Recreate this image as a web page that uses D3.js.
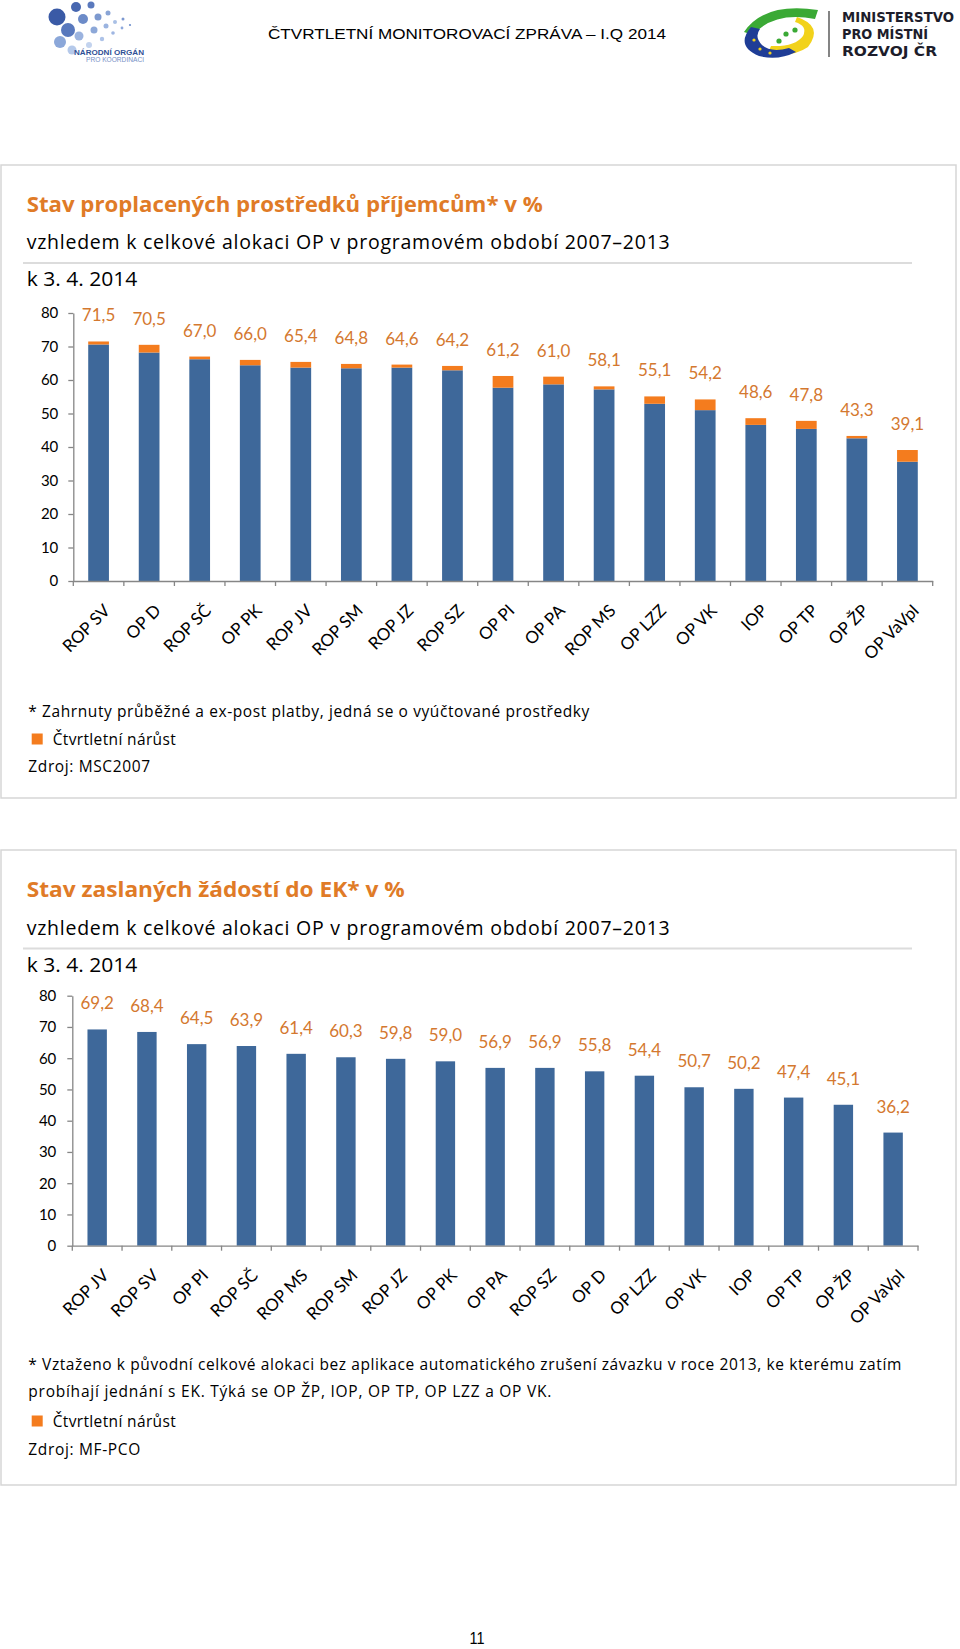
<!DOCTYPE html>
<html>
<head>
<meta charset="utf-8">
<script src="https://cdn.jsdelivr.net/npm/d3@7"></script>
<style>
  body { margin: 0; background: #fff; }
  svg { display: block; }
</style>
</head>
<body>
<svg id="page" width="960" height="1649"></svg>
<script>
// ---- data ----
const yTicks = [0, 10, 20, 30, 40, 50, 60, 70, 80];

// chart 1: paid to beneficiaries (total) and quarterly increase (orange top)
const cats1 = ["ROP SV", "OP D", "ROP SČ", "OP PK", "ROP JV", "ROP SM", "ROP JZ", "ROP SZ", "OP PI",
  "OP PA", "ROP MS", "OP LZZ", "OP VK", "IOP", "OP TP", "OP ŽP", "OP VaVpI"];
const total1 = [71.5, 70.5, 67.0, 66.0, 65.4, 64.8, 64.6, 64.2, 61.2, 61.0, 58.1, 55.1, 54.2, 48.6, 47.8, 43.3, 39.1];
const growth1 = [0.9, 2.3, 0.8, 1.6, 1.7, 1.3, 0.9, 1.3, 3.5, 2.3, 0.9, 2.2, 3.2, 2.0, 2.4, 0.7, 3.5];

// chart 2: requests sent to EC
const cats2 = ["ROP JV", "ROP SV", "OP PI", "ROP SČ", "ROP MS", "ROP SM", "ROP JZ", "OP PK", "OP PA",
  "ROP SZ", "OP D", "OP LZZ", "OP VK", "IOP", "OP TP", "OP ŽP", "OP VaVpI"];
const total2 = [69.2, 68.4, 64.5, 63.9, 61.4, 60.3, 59.8, 59.0, 56.9, 56.9, 55.8, 54.4, 50.7, 50.2, 47.4, 45.1, 36.2];

const BLUE = "#3e689a", ORANGE = "#f47c1e", LABEL = "#d4782f", TITLE = "#e07b27", AXIS = "#868686";
const chartFont = "Lato, 'Open Sans', sans-serif";
const textFont = "'Open Sans', 'Noto Sans', sans-serif";

const fmt = d3.formatLocale({ decimal: ",", thousands: " ", grouping: [3], currency: ["", ""] }).format(".1f");

const svg = d3.select("#page");
svg.append("rect").attr("width", 960).attr("height", 1649).attr("fill", "#fff");

// text helper, width forced to what the page shows
function txt(g, o) {
  const t = g.append("text")
    .attr("x", o.x).attr("y", o.y)
    .attr("font-family", o.family || textFont)
    .attr("font-size", o.size)
    .attr("font-weight", o.weight || "normal")
    .attr("fill", o.fill || "#000")
    .text(o.text);
  if (o.width) t.attr("textLength", o.width).attr("lengthAdjust", o.adjust || "spacingAndGlyphs");
  if (o.anchor) t.attr("text-anchor", o.anchor);
  return t;
}

// ---- page header ----
const head = svg.append("g");
const dots = [
  [57, 17, 8.5, "#3a5aa6"], [76, 7, 5, "#4767b0"], [91, 5, 3.5, "#5a79bd"], [68, 30, 7, "#5878bd"],
  [83, 19, 5, "#6c8bc8"], [98, 17, 3.5, "#7d99cf"], [108, 13, 2.5, "#8aa5d6"], [60, 42, 6, "#8ba7d9"],
  [79, 36, 4.5, "#9bb3df"], [94, 30, 3.5, "#8da8d8"], [106, 26, 2.5, "#9bb4e0"], [115, 22, 2, "#a9c0e5"],
  [123, 19, 1.5, "#7c98d0"], [72, 50, 4.5, "#b5c9ea"], [89, 45, 3, "#c3d3ee"], [102, 39, 2.2, "#aec3e8"],
  [113, 33, 1.8, "#9fb6e2"], [122, 28, 1.4, "#8fa9dc"], [130, 25, 1.1, "#6f8fcc"]
];
head.selectAll("circle").data(dots).join("circle")
  .attr("cx", d => d[0]).attr("cy", d => d[1]).attr("r", d => d[2]).attr("fill", d => d[3]);
txt(head, { x: 144, y: 55, text: "NÁRODNÍ ORGÁN", size: 7.5, weight: "bold", fill: "#2f4f96", anchor: "end", width: 70, family: "'Liberation Sans', Arial, sans-serif" });
txt(head, { x: 144, y: 62, text: "PRO KOORDINACI", size: 6.5, fill: "#7790c6", anchor: "end", width: 58, family: "'Liberation Sans', Arial, sans-serif" });

txt(head, { x: 268, y: 39, text: "ČTVRTLETNÍ MONITOROVACÍ ZPRÁVA – I.Q 2014", size: 15.5, width: 398, family: "'Liberation Sans', Arial, sans-serif" });

// ministry logo
head.append("path").attr("fill", "#3aa935")
  .attr("d", "M744,32 Q764,2 818,10 L815,19 Q774,11 753,35 Z");
head.append("path").attr("fill", "#f2d21b")
  .attr("d", "M797,17 Q824,26 808,47 Q792,58 768,53 L771,46 Q795,47 803,36 Q808,26 795,22 Z");
head.append("path").attr("fill", "#1f3d96")
  .attr("d", "M751,27 Q735,46 759,56 Q778,61 796,52 L789,48 Q771,53 762,45 Q754,37 760,29 Z");
head.selectAll(".star").data([[754, 40], [760, 49], [770, 53]]).join("circle")
  .attr("cx", d => d[0]).attr("cy", d => d[1]).attr("r", 1.6).attr("fill", "#f2d21b");
head.selectAll(".leaf").data([[786, 34], [795, 30], [779, 41]]).join("circle")
  .attr("cx", d => d[0]).attr("cy", d => d[1]).attr("r", 2.6).attr("fill", "#3aa935");
head.append("line").attr("x1", 829).attr("x2", 829).attr("y1", 11).attr("y2", 57)
  .attr("stroke", "#333").attr("stroke-width", 1.2);
const mFont = "'DejaVu Sans', sans-serif";
txt(head, { x: 842, y: 22, text: "MINISTERSTVO", size: 14, weight: "bold", fill: "#1d1d2b", width: 112, family: mFont });
txt(head, { x: 842, y: 39, text: "PRO MÍSTNÍ", size: 14, weight: "bold", fill: "#1d1d2b", width: 86, family: mFont });
txt(head, { x: 842, y: 56, text: "ROZVOJ ČR", size: 14, weight: "bold", fill: "#1d1d2b", width: 95, family: mFont });

// ---- panels ----
function panel(top, bottom) {
  svg.append("rect").attr("x", 1).attr("y", top).attr("width", 955).attr("height", bottom - top)
    .attr("fill", "none").attr("stroke", "#d6d6d6").attr("stroke-width", 1.5);
}
panel(165, 798);
panel(850, 1485);

function heading(g, o) {
  txt(g, { x: 26.7, y: o.y, text: o.title, size: 22, weight: "bold", fill: TITLE, width: o.titleW });
  txt(g, { x: 26.7, y: o.y + 37.3, text: "vzhledem k celkové alokaci OP v programovém období 2007–2013", size: 19.5, width: 643, adjust: "spacing" });
  g.append("line").attr("x1", 23).attr("x2", 912).attr("y1", o.y + 51.3).attr("y2", o.y + 51.3)
    .attr("stroke", "#dcdcdc").attr("stroke-width", 2);
  txt(g, { x: 26.7, y: o.y + 74.3, text: "k 3. 4. 2014", size: 19.5, width: 110.6 });
}

// ---- bar chart ----
function chart(c) {
  const g = svg.append("g");
  const x = d3.scaleBand().domain(c.cats).range([c.left, c.right])
    .paddingInner(c.pad).paddingOuter(c.pad / 2);
  const y = d3.scaleLinear().domain([0, 80]).range([c.bottom, c.top]);
  const bw = x.bandwidth();

  const base = c.totals.map((t, i) => c.growth ? t - c.growth[i] : t);

  g.selectAll(".blue").data(c.cats).join("rect")
    .attr("x", d => x(d)).attr("width", bw)
    .attr("y", (d, i) => y(base[i])).attr("height", (d, i) => y(0) - y(base[i]))
    .attr("fill", BLUE);

  if (c.growth) {
    g.selectAll(".orange").data(c.cats).join("rect")
      .attr("x", d => x(d)).attr("width", bw)
      .attr("y", (d, i) => y(c.totals[i])).attr("height", (d, i) => y(base[i]) - y(c.totals[i]))
      .attr("fill", ORANGE);
  }

  // value labels
  g.selectAll(".val").data(c.cats).join("text")
    .attr("x", d => x(d) + bw / 2).attr("y", (d, i) => y(c.totals[i]) - 20)
    .attr("text-anchor", "middle").attr("font-family", chartFont).attr("font-size", 17)
    .attr("fill", LABEL).text((d, i) => fmt(c.totals[i]));

  // y axis
  g.append("g").attr("transform", `translate(${c.left},0)`)
    .call(d3.axisLeft(y).tickValues(yTicks).tickSize(5).tickSizeOuter(0).tickPadding(c.tickPad))
    .attr("color", AXIS).attr("font-family", chartFont).attr("font-size", 15)
    .call(a => a.selectAll("text").attr("fill", "#000"))
    .call(a => a.selectAll("path,line").attr("stroke-width", 1.3));

  // x axis: line plus ticks between categories
  const xa = g.append("g").attr("transform", `translate(0,${c.bottom})`)
    .call(d3.axisBottom(x).tickSize(0).tickSizeOuter(0).tickFormat(""))
    .attr("color", AXIS);
  xa.select(".domain").attr("stroke-width", 1.3);
  xa.selectAll(".bound").data(d3.range(c.cats.length + 1)).join("line")
    .attr("x1", i => c.left + i * x.step()).attr("x2", i => c.left + i * x.step())
    .attr("y1", 0).attr("y2", 5).attr("stroke", AXIS).attr("stroke-width", 1.3);

  // rotated category labels
  g.selectAll(".cat").data(c.cats).join("text")
    .attr("transform", d => `translate(${x(d) + bw / 2 + 4},${c.bottom + 22}) rotate(-45)`)
    .attr("text-anchor", "end").attr("dy", "0.72em")
    .attr("font-family", chartFont).attr("font-size", 17).attr("fill", "#000")
    .text(d => d);
}

function notes(g, lines, legendY, sourceY, source, sourceW) {
  lines.forEach(l => txt(g, { x: 28.3, y: l.y, text: l.text, size: 15.5, width: l.w, adjust: "spacing" }));
  g.append("rect").attr("x", 31.7).attr("y", legendY - 11.5).attr("width", 11).attr("height", 11).attr("fill", ORANGE);
  txt(g, { x: 52.7, y: legendY, text: "Čtvrtletní nárůst", size: 15.5, width: 123, adjust: "spacing" });
  txt(g, { x: 28.3, y: sourceY, text: source, size: 15.5, width: sourceW, adjust: "spacing" });
}

// panel 1
const p1 = svg.append("g");
heading(p1, { y: 211.7, title: "Stav proplacených prostředků příjemcům* v %", titleW: 516 });
chart({ cats: cats1, totals: total1, growth: growth1, left: 73.3, right: 932.7, top: 313, bottom: 581, pad: 0.59, tickPad: 10 });
notes(p1, [{ y: 716.7, text: "* Zahrnuty průběžné a ex-post platby, jedná se o vyúčtované prostředky", w: 561 }],
  745, 772, "Zdroj: MSC2007", 121.7);

// panel 2
const p2 = svg.append("g");
heading(p2, { y: 897.3, title: "Stav zaslaných žádostí do EK* v %", titleW: 378 });
chart({ cats: cats2, totals: total2, left: 72.3, right: 918, top: 995.7, bottom: 1245.7, pad: 0.61, tickPad: 11 });
notes(p2, [
  { y: 1370, text: "* Vztaženo k původní celkové alokaci bez aplikace automatického zrušení závazku v roce 2013, ke kterému zatím", w: 873 },
  { y: 1396.7, text: "probíhají jednání s EK. Týká se OP ŽP, IOP, OP TP, OP LZZ a OP VK.", w: 523 }
], 1427, 1455, "Zdroj: MF-PCO", 112);

// page number
txt(svg, { x: 477, y: 1644, text: "11", size: 17, anchor: "middle", width: 15, family: "'Liberation Sans', Arial, sans-serif" });
</script>
</body>
</html>
